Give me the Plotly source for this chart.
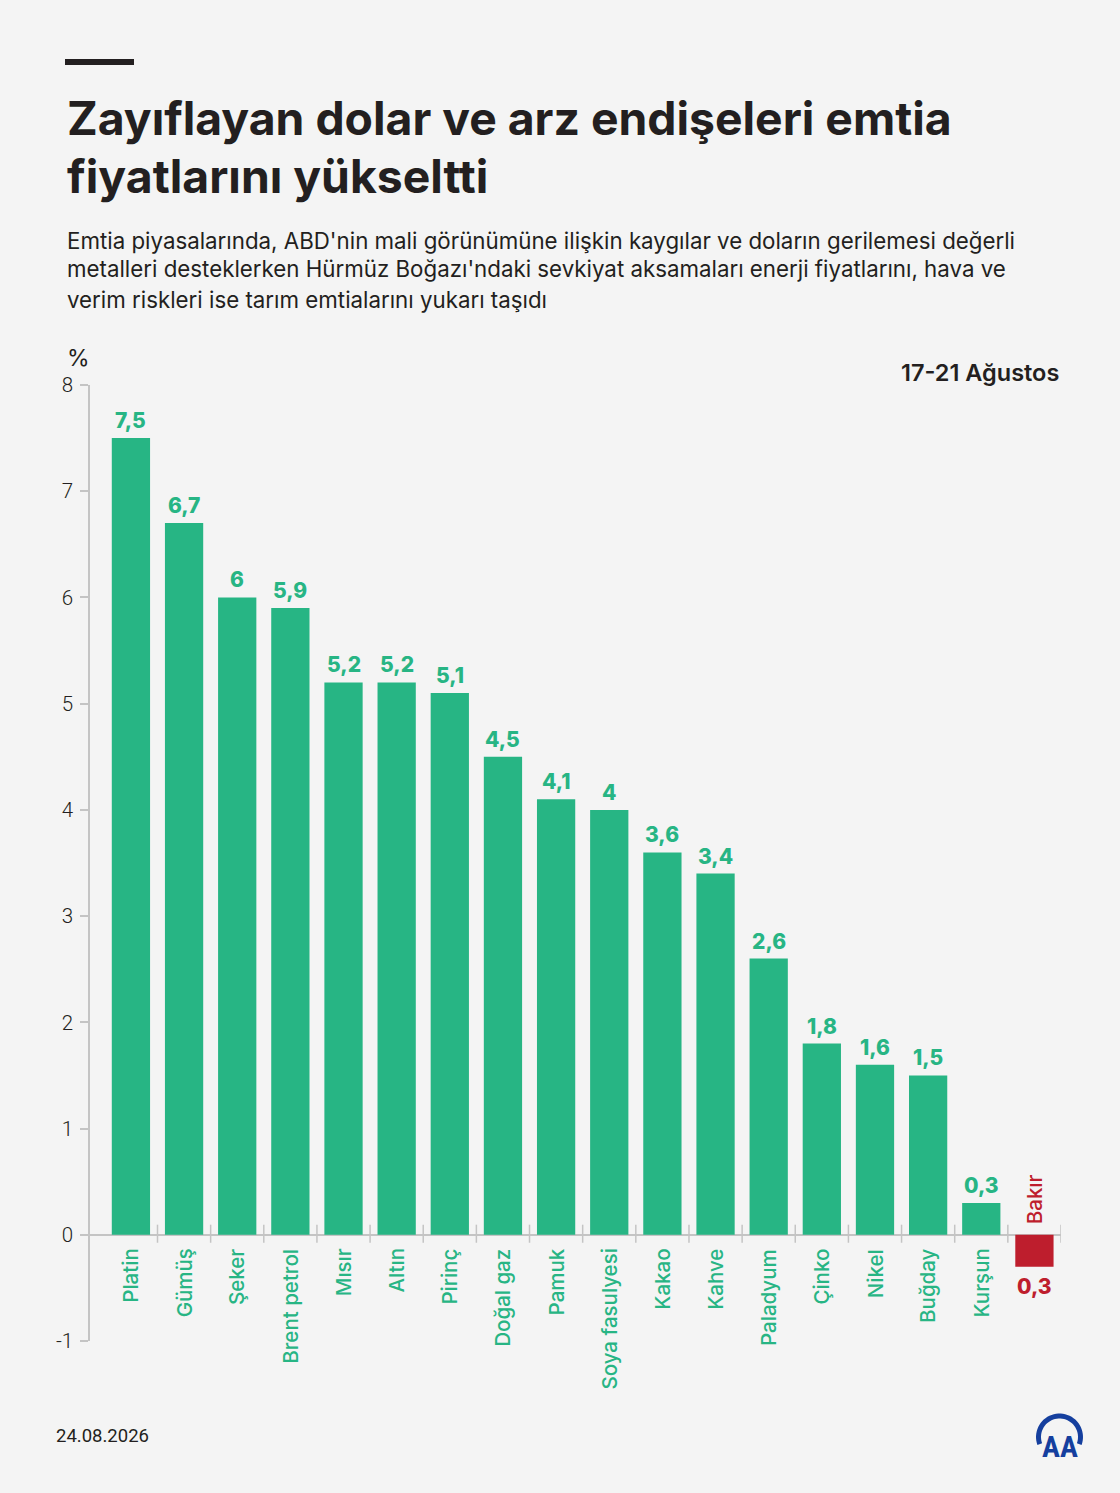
import numpy as np
import plotly.graph_objects as go

# commodity weekly change, %, 17-21 Agustos
commodities = [
    "Platin", "Gümüş", "Şeker", "Brent petrol", "Mısır", "Altın", "Pirinç",
    "Doğal gaz", "Pamuk", "Soya fasulyesi", "Kakao", "Kahve", "Paladyum",
    "Çinko", "Nikel", "Buğday", "Kurşun", "Bakır",
]
changes = [7.5, 6.7, 6.0, 5.9, 5.2, 5.2, 5.1, 4.5, 4.1, 4.0, 3.6, 3.4, 2.6, 1.8, 1.6, 1.5, 0.3, -0.3]
y_ticks = [-1, 0, 1, 2, 3, 4, 5, 6, 7, 8]

GREEN = "#27b584"
RED = "#be1e2d"
DARK = "#231f20"
GRID = "#c4c4c4"
BG = "#f4f4f4"
AA_BLUE = "#153f9e"
FONT = "Inter"

W, H = 1120, 1493
PLOT_L, PLOT_R, PLOT_T, PLOT_B = 90, 1061, 385, 1341


def xp(px):
    return (px - PLOT_L) / (PLOT_R - PLOT_L)


def yp(py):
    return (PLOT_B - py) / (PLOT_B - PLOT_T)


def fmt(v):
    v = abs(v)
    if float(v).is_integer():
        return str(int(v))
    return f"{v:.1f}".replace(".", ",")


colors = [GREEN if v >= 0 else RED for v in changes]
idx = list(range(len(commodities)))

fig = go.Figure()
fig.add_trace(
    go.Bar(
        x=idx,
        y=changes,
        width=0.72,
        marker={"color": colors, "line": {"width": 0}},
        hoverinfo="skip",
    )
)

annotations = []
for i, (name, v, c) in enumerate(zip(commodities, changes, colors)):
    pos = v >= 0
    # value label
    annotations.append(dict(
        x=i, y=v, xref="x", yref="y", text=fmt(v), showarrow=False,
        yanchor="bottom" if pos else "top", yshift=3 if pos else -5,
        font={"family": FONT, "size": 21, "color": c, "weight": 800},
    ))
    # category label, rotated
    annotations.append(dict(
        x=i, y=0, xref="x", yref="y", text=name, showarrow=False, textangle=-90,
        yanchor="top" if pos else "bottom", yshift=-12 if pos else 9,
        font={"family": FONT, "size": 20.5, "color": c, "weight": 500},
    ))

texts = [
    (65, 118, "Zayıflayan dolar ve arz endişeleri emtia", 46.3, 700, "left"),
    (65, 176, "fiyatlarını yükseltti", 46.3, 700, "left"),
    (65, 240, "Emtia piyasalarında, ABD'nin mali görünümüne ilişkin kaygılar ve doların gerilemesi değerli", 22.3, 400, "left"),
    (65, 269, "metalleri desteklerken Hürmüz Boğazı'ndaki sevkiyat aksamaları enerji fiyatlarını, hava ve", 22.3, 400, "left"),
    (65, 299, "verim riskleri ise tarım emtialarını yukarı taşıdı", 22.3, 400, "left"),
    (65, 358, "%", 23, 400, "left"),
    (1061, 373, "17-21 Ağustos", 23.5, 600, "right"),
]
for x, y, t, size, weight, anchor in texts:
    annotations.append(dict(
        x=xp(x), y=yp(y), xref="paper", yref="paper", text=t, showarrow=False,
        xanchor=anchor, yanchor="middle",
        font={"family": FONT, "size": size, "color": DARK, "weight": weight},
    ))
annotations.append(dict(
    x=xp(54), y=yp(1436), xref="paper", yref="paper", text="24.08.2026", showarrow=False,
    xanchor="left", yanchor="middle", font={"family": "Roboto", "size": 18.5, "color": DARK},
))
annotations.append(dict(
    x=xp(1060), y=yp(1446), xref="paper", yref="paper", text="<b>AA</b>", showarrow=False,
    xanchor="center", yanchor="middle",
    font={"family": "Liberation Sans Narrow, Roboto Condensed, Roboto", "size": 30, "color": AA_BLUE},
))

shapes = []
# category boundary ticks crossing the zero line
for k in range(len(commodities)):
    shapes.append(dict(
        type="line", xref="x", yref="y", x0=k + 0.5, x1=k + 0.5, y0=-0.075, y1=0.095,
        line={"color": GRID, "width": 1.5},
    ))
# short rule above title
shapes.append(dict(
    type="rect", xref="paper", yref="paper", x0=xp(65), x1=xp(134), y0=yp(59), y1=yp(65),
    fillcolor=DARK, line={"width": 0},
))
# AA logo ring
theta = np.linspace(np.radians(200), np.radians(-20), 40)
cx, cy, r_out, r_in = 1059.5, 1437, 23.5, 18.5
outer = [(cx + r_out * np.cos(t), cy - r_out * np.sin(t)) for t in theta]
inner = [(cx + r_in * np.cos(t), cy - r_in * np.sin(t)) for t in theta[::-1]]
pts = outer + inner
path = "M " + " L ".join(f"{xp(a):.5f},{yp(b):.5f}" for a, b in pts) + " Z"
shapes.append(dict(type="path", xref="paper", yref="paper", path=path, fillcolor=AA_BLUE, line={"width": 0}))

fig.update_layout(
    width=W,
    height=H,
    margin={"l": PLOT_L, "r": W - PLOT_R, "t": PLOT_T, "b": H - PLOT_B, "pad": 0},
    paper_bgcolor=BG,
    plot_bgcolor=BG,
    showlegend=False,
    bargap=0.28,
    annotations=annotations,
    shapes=shapes,
    font={"family": FONT, "color": DARK},
)
fig.update_xaxes(
    range=[-0.77, 17.5],
    showticklabels=False,
    showgrid=False,
    zeroline=False,
    showline=False,
    ticks="",
    fixedrange=True,
)
fig.update_yaxes(
    range=[-1, 8],
    tickvals=y_ticks,
    ticktext=[str(t) for t in y_ticks],
    showgrid=False,
    zeroline=True,
    zerolinecolor=GRID,
    zerolinewidth=1.5,
    showline=True,
    linecolor=GRID,
    linewidth=1.5,
    ticks="outside",
    ticklen=8,
    tickwidth=1.5,
    tickcolor=GRID,
    ticklabelstandoff=3,
    tickfont={"family": "Roboto", "size": 20.5, "color": DARK, "weight": 300},
    fixedrange=True,
)

fig.write_html(
    "out.html",
    config={"displayModeBar": False},
    post_script="document.body.style.margin='0';document.body.style.background='#f4f4f4';",
)
